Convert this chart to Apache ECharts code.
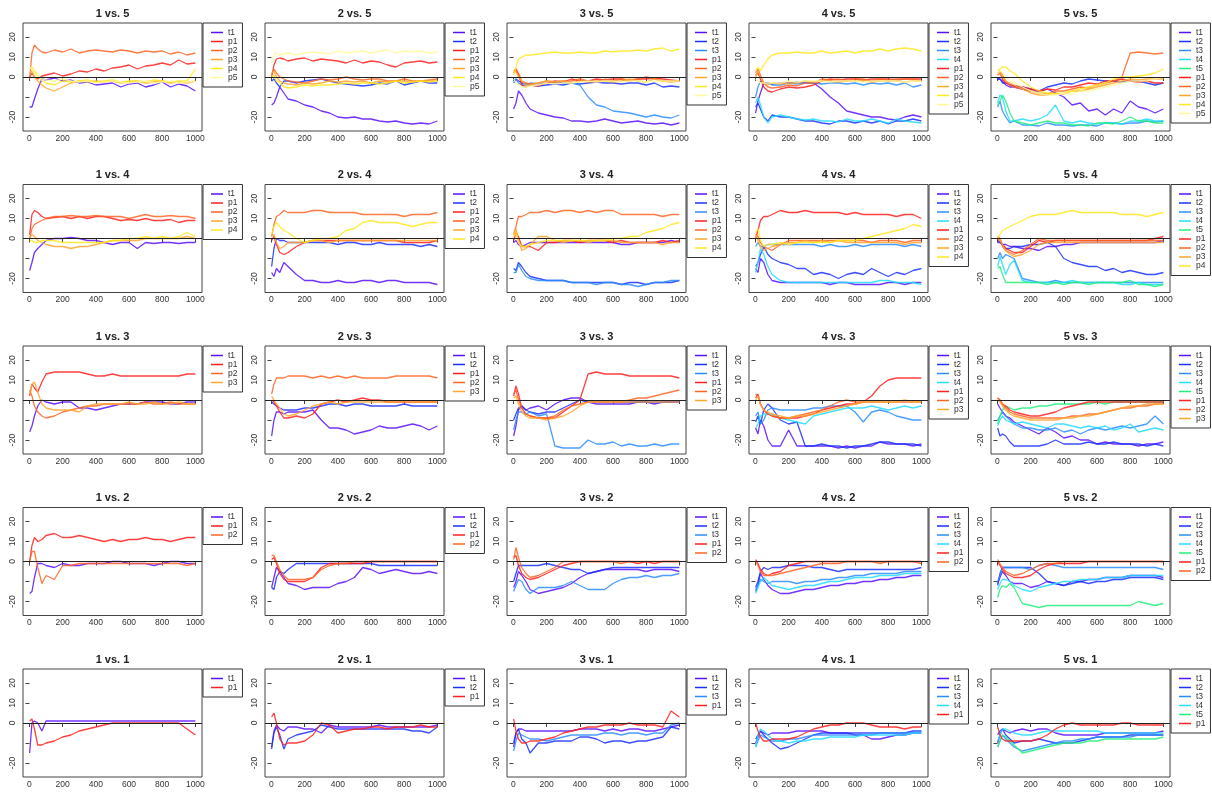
<!DOCTYPE html>
<html>
<head>
<meta charset="utf-8">
<title>t vs p</title>
<script src="https://cdn.jsdelivr.net/npm/echarts@6/dist/echarts.min.js"></script>
<style>
  html, body { margin: 0; padding: 0; background: #fff; }
  #chart { width: 1212px; height: 798px; }
</style>
</head>
<body>
<div id="chart"></div>
<script>
const steps = [1, 15, 30, 50, 75, 100, 150, 200, 250, 300, 350, 400, 450, 500, 550, 600, 650, 700, 750, 800, 850, 900, 950, 1000];
const xTicks = [0, 200, 400, 600, 800, 1000];
const yTicks = [-20, -10, 0, 10, 20];
const yLabels = [-20, 0, 10, 20];

const tColors = ["#5a10ff", "#1a30ff", "#2a8cff", "#22dcff", "#22f07a"];
const pColors = ["#ff1f1f", "#ff6424", "#ffa62e", "#ffe81c", "#fff99a"];

// "i vs. j": t1..ti then p1..pj
const v1_5 = [
  [-15, -15, -11, -6, -1, -1.5, -0.5, -2, -1.5, -3, -2.5, -4, -3.5, -3, -5, -3.5, -3, -5, -4, -2.5, -5, -3.5, -4.5, -7],
  [0, 2, 0, -1, 0.5, 1, 2, 0.5, 1.5, 3, 2.5, 4, 3, 4.5, 5, 6, 4, 5.5, 6, 7, 6, 8.5, 6.5, 7],
  [-1, 12, 16, 14, 12.5, 12, 13.5, 12.5, 14, 12, 13, 13.5, 13, 12.5, 13.5, 13, 12, 13, 12.5, 13, 11.5, 12.5, 11, 12],
  [2, 3, 0, -2, -4, -5.5, -7, -5, -3, -2, -2.5, -2, -2.5, -2, -3, -2.5, -2, -3, -2.5, -2, -3, -2.5, -3, -2],
  [4, 5, 3, 1, -2, -3, -4, -2, -2.5, -2, -1.5, -2.5, -2, -1.5, -2.5, -2, -2, -2.5, -1.5, -2, -2.5, -2, -2, 4],
  [5, 4, 2, 0, -1, -1.5, -2, -1, -2, -2.5, -2, -3, -2.5, -2, -2.5, -3, -2.5, -2, -3, -2.5, -2, -3, -2.5, -2]
];
const v2_5 = [
  [-14, -13, -10, -5, -8, -11, -12, -14, -15, -17, -18, -20, -20.5, -20, -21, -21, -22, -22.5, -22, -23, -23.5, -23, -23.5, -22],
  [-2, -1, -3, -5, -2, -2, -3, -2, -1.5, -1, -2, -3, -3.5, -4, -4.5, -4, -3, -3.5, -2, -4, -3, -2, -3, -3],
  [0, 6, 9, 9.5, 9, 8, 9, 9.5, 8, 9, 8.5, 8, 7, 8.5, 7, 8, 7.5, 6, 5, 7, 7.5, 8, 7, 7.5],
  [1, 4, 2, 0, -1, -2, -2.5, -3, -2, -1, -1.5, -1, 0, -1, -1.5, -1, -1, -2, -2, -1, -2, -2, -1.5, -1],
  [2, 3, 0, -2, -3, -3.5, -4, -3, -3.5, -3, -2, -2.5, -2, -2.5, -2, -3, -2, -2.5, -2, -2, -2.5, -2, -2, -2],
  [0, 1, -2, -3, -5, -5.5, -5, -4, -4.5, -4, -4, -3.5, -3, -3.5, -3, -3, -3.5, -3, -2, -3, -2.5, -2, -2.5, -2],
  [7, 11, 12, 11, 11.5, 12, 11, 12, 12.5, 12, 11.5, 13, 12, 12.5, 13, 12, 13, 13.5, 12, 13, 12.5, 13, 12, 12.5]
];
const v3_5 = [
  [-16, -13, -7, -9, -13, -16, -18, -19, -20, -20.5, -22, -22, -22.5, -22, -21, -22, -23, -22.5, -22, -23, -23.5, -23, -24, -23],
  [-3, -1, -2, -3, -3.5, -4, -4.5, -4, -3.5, -4, -3, -3.5, -3, -2.5, -3, -3, -3.5, -3, -3, -4, -3, -5, -4.5, -5],
  [-2, -1, -3, -4, -4, -3, -3.5, -3, -2.5, -3, -3, -4, -10, -14, -15, -17, -17.5, -18, -19, -20, -19, -20, -20.5, -19],
  [2, 4, 1, -4, -5, -4, -4.5, -3, -2, -2.5, -1, -2, -2, -1, -1.5, -1, -1, -1.5, -1, -1, -0.5, -1, -1.5, -2],
  [3, 4, 2, -2, -3, -3.5, -3, -2, -2.5, -2, -2, -1, -2, -2.5, -1, -2, -1, -2, -1, 0, -1, -2, -2, -2],
  [2, 3, 0, -2, -4, -4, -3, -2, -2.5, -2, -3, -2, -2.5, -2, -2, -2.5, -2, -1, -2, -2.5, -1, -2, -2.5, -2],
  [1, 5, 9, 10, 11, 11, 11.5, 12, 12.5, 12, 12, 12.5, 12, 12, 13, 12.5, 13, 13, 13.5, 13, 14, 14.5, 13, 14],
  [-1, -3, -4, -5, -5, -4.5, -4, -3, -3.5, -3, -3, -2.5, -2, -2.5, -2, -2, -2.5, -2, -2, -2.5, -2, -2, -2, -2]
];
const v4_5 = [
  [-18, -12, -8, -3, -3, -3.5, -3, -3, -2.5, -3, -3, -6, -10, -13, -17, -18, -19, -20, -20, -21, -21.5, -20, -19, -20],
  [-15, -13, -16, -20, -22, -19, -20, -20, -21, -22, -22, -23, -23.5, -22, -22, -23, -22, -23, -22, -23.5, -22, -22, -21, -22],
  [-10, -5, -2, -3, -3, -4, -4, -3, -3.5, -3, -3, -3.5, -3, -3, -3.5, -3, -4, -3, -3.5, -3, -4, -3, -5, -4],
  [-13, -10, -14, -20, -23, -20, -19, -20, -21, -21.5, -21, -22, -22, -22.5, -21, -22, -22, -21, -22, -23, -21, -22, -22.5, -23],
  [1, 2, -1, -5, -7, -7.5, -6, -5, -5.5, -5, -4, -2, -1, -1.5, -1, -1, -1.5, -1, -1, -1, -1.5, -1, -1, -1],
  [2, 4, 1, -3, -5, -5.5, -5, -4, -4.5, -3, -3, -1, -1.5, -1, -2, -1, -1, -2, -1, -1.5, -1, -1, -1, -2],
  [0, 3, 0, -3, -4, -3, -3.5, -3, -3, -2, -2.5, -2, -2, -2.5, -2, -2, -2, -2.5, -2, -2, -2, -2.5, -2, -2],
  [3, 5, 3, 6, 9, 11, 12, 12, 12.5, 12, 12, 13, 12, 12.5, 13, 12, 13, 13, 14, 13, 14, 14.5, 14, 13],
  [-1, -2, -3, -3, -3, -3, -3, -2, -2.5, -2, -2, -2, -2.5, -2, -2, -2, -2.5, -2, -2, -2, -2, -2.5, -2, -2]
];
const v5_5 = [
  [-1, -1, -2, -4, -5, -5, -6, -7, -7.5, -6, -8, -10, -14, -13, -17, -16, -19, -16, -18, -12, -15, -16, -18, -16],
  [-1, -1, -3, -3, -4, -4.5, -5, -6, -7, -5, -4, -3, -3.5, -2, -1, -1.5, -2, -2, -2.5, -2, -2, -3, -4, -3],
  [-15, -12, -17, -20, -23, -22, -24, -24, -24.5, -23, -24, -24, -24.5, -24, -24, -24.5, -23, -23, -23.5, -23, -23, -22, -22.5, -22],
  [-13, -9, -10, -17, -22, -22, -21, -22, -21, -19, -14, -22, -23, -22, -23, -23.5, -23, -23, -23.5, -22, -22, -21, -22, -22],
  [-14, -12, -9, -12, -18, -22, -23, -24, -23, -22, -23, -23, -24, -24, -24.5, -23, -23, -23.5, -22, -20, -22, -22, -23, -23],
  [1, 2, -1, -3, -4, -4.5, -5, -6, -7, -6, -6.5, -5, -5, -4, -3, -3.5, -2, -2, -1, -2, -2.5, -2, -3, -3],
  [2, 3, 1, -2, -4, -5, -6, -7, -8, -8.5, -7, -7, -6, -5, -5.5, -4, -3, -2, 0, 12, 12.5, 12, 11.5, 12],
  [1, 2, 0, -2, -3, -4, -6, -8, -9, -9, -8, -8.5, -7, -7, -6, -5, -4, -3, -2, -1, -1.5, -1, -1, -1],
  [3, 4, 5, 5, 3, 2, -2, -5, -7, -8, -8.5, -8, -7, -6, -5, -4, -3, -1, 0, 0, 0.5, 1, 2, 4],
  [2, 3, 2, 0, -2, -3, -5, -7, -8, -9, -9, -8, -8.5, -7, -7, -6, -5, -4, -3, -2, -2, -2, -1, 0]
];

const v1_4 = [
  [-16, -12, -7, -5, -3, -1, 0, 0, 0.5, 0, -1, -1, -2, -3, -2, -2, -5, -2, -2.5, -2, -2, -2.5, -2, -2],
  [2, 12, 14, 13, 11, 10, 10.5, 11, 10, 11, 10, 11, 11, 10, 9, 9.5, 9, 10, 9, 9, 9.5, 8, 9, 9],
  [0, 5, 7, 8, 9, 10, 11, 11, 11.5, 11, 11, 11.5, 11, 11, 11, 10, 11, 12, 11, 11, 11.5, 11, 11, 10],
  [0, 2, 1, -1, -2, -3, -4, -4, -5, -4, -4, -3, -2, -1, -1, -1, -1, 0, 0, 0, 0, 0, 1, 0],
  [-1, -1, -2, -2, -1, -1, -1, -2, -2, -2, -2, -2, -2, -1, -1, 0, 0, 1, 0, 1, 0, 1, 3, 1]
];
const v2_4 = [
  [-17, -19, -15, -17, -12, -14, -18, -21, -21, -22, -22, -21, -22, -22, -21, -21, -22, -21, -21, -22, -22, -22, -22, -23],
  [-14, -5, 0, -1, -1, -2, -2, -2, -2, -2, -2, -3, -2, -2, -3, -3, -2, -3, -3, -3, -3, -4, -3, -4],
  [-1, 1, -3, -7, -8, -7, -4, -2, -1, -1, -1, -1, -1, -1, -1, -1, -1, -1, -1, -2, -2, -2, -2, -1],
  [1, 7, 11, 12, 14, 13, 13, 13, 14, 14, 13, 13, 13, 13, 12, 12, 12, 12, 12, 11, 12, 12, 12, 13],
  [1, 2, -2, -5, -4, -2, -2, -2, -1, -1, -2, -1, -1, -1, -1, -1, -1, -1, -1, -1, -1, -1, -1, -1],
  [2, 6, 8, 6, 4, 3, 0, -2, -1, 0, 0, 1, 4, 5, 8, 9, 8, 8, 8, 7, 6, 7, 8, 8]
];
const v3_4 = [
  [-2, -1, -3, -4, -3, -2, -2, -2, -2, -2, -2, -2, -2, -2, -2, -2, -3, -3, -2, -2, -2, -2, -1, -2],
  [-15, -16, -12, -14, -17, -19, -20, -21, -21, -21, -22, -22, -22, -22, -22, -22, -23, -22, -22, -23, -22, -22, -22, -21],
  [-17, -17, -13, -16, -19, -20, -21, -21, -21, -21, -22, -22, -22, -23, -22, -22, -23, -23, -24, -23, -22, -22, -21, -21],
  [-1, 3, 1, -4, -4, -4, -6, -2, -2, -1, -1, -2, -1, -1, -1, -2, -1, -2, -2, -2, -2, -1, -2, -1],
  [2, 6, 11, 11, 12, 13, 13, 14, 13, 14, 14, 13, 14, 13, 14, 14, 12, 12, 12, 12, 12, 11, 12, 12],
  [2, 5, -1, -6, -5, -3, 1, 1, -1, -2, -1, -1, -2, -1, -1, -1, -2, -2, -2, -2, -2, -3, -2, -2],
  [1, 3, -2, -4, -4, -3, -2, -1, -1, -1, -1, -1, -1, -1, -1, 0, 0, 1, 1, 3, 4, 5, 7, 8]
];
const v4_4 = [
  [-15, -17, -10, -12, -18, -21, -22, -22, -22, -22, -22, -22, -23, -22, -22, -23, -23, -23, -23, -22, -22, -23, -22, -22],
  [-14, -12, -8, -4, -8, -10, -12, -13, -15, -15, -18, -17, -18, -20, -18, -17, -18, -15, -17, -19, -17, -18, -16, -15],
  [-4, -2, -4, -4, -3, -3, -3, -3, -3, -3, -3, -4, -3, -4, -4, -3, -4, -3, -3, -3, -3, -4, -3, -4],
  [-17, -12, -5, -8, -14, -18, -21, -22, -22, -22, -22, -22, -22, -22, -22, -22, -22, -22, -21, -21, -22, -22, -22, -23],
  [0, 4, 9, 11, 11, 12, 14, 13, 13, 14, 13, 13, 13, 13, 12, 13, 12, 12, 12, 12, 11, 12, 12, 10],
  [2, 1, -2, -4, -5, -6, -3, -1, -1, -1, -1, -1, -1, -1, -1, -1, -1, -2, -1, -1, -1, -2, -1, -1],
  [2, -1, -4, -6, -5, -4, -3, -2, -2, -1, -2, -1, -2, -1, -2, -2, -2, -2, -2, -2, -2, -3, -2, -2],
  [3, 5, -1, -4, -3, -3, -2, -3, -2, -2, -2, -2, -2, -1, -1, -1, 0, 1, 2, 3, 4, 5, 7, 6]
];
const v5_4 = [
  [-1, -2, -3, -3, -4, -4, -5, -5, -6, -4, -4, -3, -3, -2, -2, -2, -2, -2, -2, -2, -2, -2, -2, -1],
  [-2, -2, -3, -5, -5, -4, -4, -3, -3, -2, -4, -10, -12, -13, -14, -14, -16, -15, -17, -16, -17, -18, -18, -17],
  [-10, -7, -10, -8, -9, -10, -20, -21, -22, -22, -21, -22, -22, -22, -22, -22, -22, -22, -22, -22, -22, -22, -22, -22],
  [-14, -9, -13, -18, -13, -11, -21, -22, -22, -22, -22, -22, -21, -22, -22, -22, -22, -22, -23, -23, -22, -23, -23, -23],
  [-15, -14, -18, -22, -22, -22, -22, -22, -22, -23, -22, -23, -22, -22, -23, -22, -22, -22, -22, -21, -23, -23, -24, -23],
  [1, 0, -3, -5, -6, -7, -7, -4, -1, -2, -1, -1, -1, -1, -1, -1, -1, -1, -1, -1, -1, -1, 0, 1],
  [0, -1, -4, -6, -7, -8, -6, -3, 0, -1, -1, -1, -1, -1, -1, -1, -1, -1, -1, -1, -1, -1, -1, -1],
  [1, 0, -3, -6, -8, -9, -8, -6, -3, -2, -2, -2, -2, -2, -2, -2, -2, -2, -2, -2, -2, -2, -2, -2],
  [0, 2, 4, 5, 6, 7, 9, 11, 12, 12, 12, 13, 14, 13, 13, 13, 13, 13, 12, 12, 12, 11, 12, 13]
];

const v1_3 = [
  [-16, -13, -8, -3, 0, -1, -2, -1, -1, -4, -4, -5, -4, -3, -2, -2, -2, -1, -1, -1, -2, -2, -1, -1],
  [2, 8, 6, 4, 9, 13, 14, 14, 14, 14, 13, 12, 12, 13, 12, 12, 12, 12, 12, 12, 12, 12, 13, 13],
  [5, 2, -3, -6, -8, -9, -8, -6, -5, -4, -3, -3, -2, -2, -2, -2, -2, -1, -2, -2, -1, -2, -2, -2],
  [3, 8, 9, 4, -2, -4, -5, -5, -5, -6, -3, -2, -2, -2, -2, -1, -2, -2, -1, -2, -2, -1, -2, -2]
];
const v2_3 = [
  [-18, -10, -6, -6, -7, -6, -6, -6, -5, -10, -14, -14, -15, -17, -16, -15, -13, -14, -14, -13, -12, -13, -15, -13],
  [-1, -2, -3, -4, -5, -5, -5, -4, -4, -3, -2, -2, -3, -2, -2, -3, -3, -3, -3, -2, -3, -3, -3, -3],
  [0, -1, -3, -6, -9, -9, -8, -9, -7, -2, -1, 0, -1, 0, 1, 0, 0, -1, -1, -1, -1, -1, -1, -1],
  [3, 8, 11, 11, 11, 12, 12, 12, 11, 12, 11, 12, 11, 12, 11, 11, 11, 11, 12, 12, 12, 12, 12, 11],
  [2, 0, -2, -4, -7, -8, -7, -5, -3, -2, -1, -2, -1, -1, -1, -1, -1, -1, -1, -1, -1, -1, -1, -1]
];
const v3_3 = [
  [-18, -13, -5, -3, -5, -4, -3, -5, -2, 0, 1, 1, -1, -2, -2, -2, -2, -2, -1, -1, -2, -1, -1, -1],
  [-10, -7, -4, -3, -5, -6, -7, -6, -6, -4, -2, 0, -1, -1, -1, -1, -1, -1, -1, -1, -1, -1, -1, -1],
  [-15, -10, -6, -6, -7, -6, -8, -7, -23, -24, -24, -24, -20, -22, -22, -21, -23, -22, -23, -23, -22, -23, -22, -22],
  [2, 7, 3, -4, -7, -8, -9, -9, -9, -6, -3, 0, 13, 14, 13, 13, 13, 12, 12, 12, 12, 12, 12, 11],
  [3, 5, 0, -4, -7, -8, -9, -9, -8, -5, -3, -2, -1, -1, -1, -1, -1, 0, 1, 1, 2, 3, 4, 5],
  [1, 2, -2, -6, -8, -9, -9, -10, -9, -8, -6, -3, -1, -1, -1, -1, -1, -1, -1, -1, -1, -1, -1, -1]
];
const v4_3 = [
  [-14, -17, -10, -13, -20, -23, -23, -15, -23, -23, -23, -23, -23, -24, -23, -24, -23, -23, -21, -22, -22, -22, -23, -22],
  [-11, -8, -12, -5, -2, -4, -10, -12, -11, -23, -23, -22, -23, -23, -24, -23, -23, -22, -21, -21, -22, -22, -22, -23],
  [-8, -6, -12, -10, -5, -4, -5, -5, -5, -5, -4, -4, -3, -3, -3, -6, -11, -6, -5, -6, -8, -9, -10, -10],
  [-14, -12, -8, -7, -7, -7, -9, -10, -11, -12, -8, -7, -6, -5, -4, -4, -4, -3, -4, -5, -4, -3, -4, -3],
  [1, 3, -2, -5, -7, -8, -9, -9, -9, -8, -7, -5, -4, -3, -2, -2, -1, 2, 7, 10, 11, 11, 11, 11],
  [3, 2, -2, -5, -7, -8, -9, -9, -8, -7, -6, -5, -3, -1, 0, -1, -1, -1, -1, -1, -1, -1, -1, -1],
  [0, 2, -2, -5, -6, -7, -8, -9, -8, -8, -7, -6, -5, -4, -3, -2, -1, -1, -1, -1, -1, 0, -1, -1]
];
const v5_3 = [
  [-2, -4, -6, -8, -9, -11, -13, -15, -17, -14, -16, -19, -18, -20, -20, -22, -21, -22, -22, -22, -23, -22, -22, -21],
  [-14, -18, -17, -18, -21, -23, -23, -23, -23, -22, -20, -22, -22, -22, -21, -22, -22, -21, -22, -22, -22, -23, -22, -23],
  [-10, -8, -6, -8, -10, -12, -14, -14, -15, -15, -14, -16, -15, -17, -15, -14, -15, -14, -13, -14, -13, -12, -8, -12],
  [-13, -10, -8, -10, -11, -12, -11, -12, -13, -14, -12, -12, -13, -14, -13, -14, -13, -15, -14, -12, -16, -15, -14, -15],
  [-12, -8, -5, -3, -4, -5, -4, -4, -3, -3, -2, -2, -2, -2, -2, -1, -2, -1, -1, -1, -1, -1, -1, -1],
  [1, 0, -2, -3, -5, -6, -7, -8, -8, -7, -6, -4, -3, -2, -1, -1, -1, -1, -1, -1, -1, -1, -1, -1],
  [1, 0, -2, -4, -6, -7, -8, -9, -9, -9, -9, -9, -8, -8, -7, -7, -6, -5, -4, -4, -3, -3, -2, -2],
  [0, -1, -3, -5, -7, -8, -9, -10, -10, -10, -10, -9, -9, -8, -8, -7, -6, -5, -4, -3, -3, -2, -2, -2]
];

const v1_2 = [
  [-16, -15, -8, -1, -1, -2, -3, -1, -2, -2, -1, -1, -1, 0, 0, -1, -1, -1, -2, -1, 0, 0, -1, -1],
  [0, 8, 12, 10, 11, 13, 14, 12, 12, 13, 12, 11, 10, 11, 10, 11, 11, 12, 11, 11, 10, 11, 12, 12],
  [0, 5, 5, -3, -11, -7, -9, -2, -2, -1, -1, -1, -1, -1, -1, -1, -1, -1, -1, -1, -1, -1, -2, -1]
];
const v2_2 = [
  [-13, -8, -3, -5, -8, -11, -12, -14, -13, -13, -13, -11, -10, -8, -3, -4, -6, -5, -4, -5, -6, -6, -5, -6],
  [-13, -14, -8, -5, -6, -4, -1, -1, -1, -1, -1, -1, -1, -1, -1, -1, -2, -2, -2, -2, -2, -2, -2, -2],
  [1, 2, -1, -6, -9, -10, -10, -10, -8, -3, -1, -1, -1, -1, -1, 0, 0, 0, 0, 0, 0, 0, 0, 0],
  [3, 3, 0, -4, -7, -9, -9, -9, -8, -4, -2, -1, -1, 0, 0, 0, 0, 0, 0, 0, 0, 0, 0, 0]
];
const v3_2 = [
  [-13, -10, -5, -7, -10, -14, -16, -15, -14, -13, -11, -8, -6, -5, -4, -4, -4, -4, -4, -5, -4, -4, -4, -5],
  [-10, -6, -2, -2, -2, -2, -2, -1, -2, -3, -4, -4, -6, -5, -4, -3, -3, -3, -3, -3, -3, -3, -3, -3],
  [-15, -12, -9, -10, -14, -16, -13, -13, -13, -12, -10, -12, -14, -14, -14, -11, -9, -8, -8, -7, -8, -7, -7, -6],
  [2, 3, -2, -6, -8, -9, -8, -6, -4, -2, -1, 0, 0, 0, 0, 0, 0, 0, -1, 0, -1, 0, 0, 0],
  [1, 7, 2, -3, -6, -8, -7, -5, -3, 0, 0, 0, 0, 0, 0, 0, -1, 0, 0, 0, 0, 0, 0, 0]
];
const v4_2 = [
  [-15, -12, -6, -9, -12, -14, -16, -16, -15, -14, -14, -13, -12, -12, -11, -11, -10, -10, -9, -9, -8, -8, -7, -7],
  [-13, -10, -5, -3, -4, -3, -3, -2, -2, -2, -3, -3, -4, -5, -4, -4, -4, -4, -4, -4, -4, -4, -4, -3],
  [-14, -12, -9, -10, -11, -10, -10, -10, -11, -10, -10, -9, -9, -8, -8, -7, -7, -6, -6, -6, -6, -5, -5, -5],
  [-16, -13, -10, -8, -10, -12, -13, -14, -13, -12, -12, -11, -10, -10, -9, -8, -8, -8, -7, -7, -7, -6, -6, -6],
  [1, -1, -4, -6, -7, -6, -5, -2, -1, 0, 0, 0, 0, 0, 0, 0, 0, 0, 0, 0, 0, 0, 0, 0],
  [0, -2, -5, -7, -7, -7, -6, -5, -4, -3, -2, -1, -1, -1, 0, 0, 0, 0, -1, 0, 0, 0, 0, -1]
];
const v5_2 = [
  [-11, -8, -5, -7, -10, -11, -11, -13, -12, -10, -11, -12, -10, -10, -9, -9, -8, -8, -8, -7, -7, -7, -7, -8],
  [-12, -6, -3, -3, -3, -3, -3, -3, -6, -10, -11, -12, -11, -10, -11, -10, -10, -9, -9, -8, -8, -8, -8, -9],
  [-10, -7, -3, -3, -3, -3, -3, -4, -2, -1, -2, -3, -3, -3, -3, -3, -3, -3, -3, -3, -3, -3, -3, -4],
  [-14, -11, -9, -9, -10, -12, -14, -15, -13, -12, -11, -10, -10, -9, -9, -9, -8, -8, -8, -7, -7, -7, -7, -7],
  [-18, -14, -12, -13, -11, -13, -21, -22, -23, -22, -22, -22, -22, -22, -22, -22, -22, -22, -22, -22, -20, -21, -22, -21],
  [0, -2, -4, -6, -7, -8, -8, -7, -4, -2, -1, -1, -1, -1, 0, 0, 0, 0, 0, 0, 0, 0, 0, 0],
  [1, -1, -3, -5, -6, -7, -6, -4, -2, -1, -1, 0, 0, 0, 0, 0, 0, 0, 0, 0, 0, 0, 0, 0]
];

const v1_1 = [
  [-15, 0, 1, 0, -4, 1, 1, 1, 1, 1, 1, 1, 1, 1, 1, 1, 1, 1, 1, 1, 1, 1, 1, 1],
  [1, 2, -3, -11, -11, -10, -9, -7, -6, -4, -3, -2, -1, 0, 0, 0, 0, 0, 0, 0, 0, 0, -3, -6]
];
const v2_1 = [
  [-12, -4, -1, -3, -4, -2, -2, -3, -3, -5, -1, -2, -2, -2, -2, -2, -1, -2, -2, -2, -2, -2, -2, -1],
  [-13, -5, -2, -6, -13, -8, -6, -5, -4, -1, -2, -3, -3, -3, -3, -3, -3, -3, -3, -3, -4, -4, -5, -2],
  [3, 5, 0, -8, -11, -10, -10, -9, -6, 0, -1, -5, -4, -3, -3, -2, -2, -3, -2, -2, -2, -1, -2, -2]
];
const v3_1 = [
  [-12, -5, -3, -3, -4, -4, -4, -4, -4, -4, -4, -3, -3, -3, -4, -3, -4, -3, -3, -4, -4, -3, -2, -1],
  [-10, -5, -3, -8, -10, -15, -10, -10, -9, -9, -9, -7, -7, -8, -10, -9, -9, -10, -9, -9, -8, -7, -2, -3],
  [-14, -9, -5, -6, -7, -8, -8, -9, -8, -7, -6, -6, -6, -6, -5, -5, -6, -5, -5, -6, -5, -5, -1, 0],
  [2, -4, -8, -10, -10, -9, -9, -8, -7, -5, -4, -3, -2, -2, -1, -1, -1, 0, -1, -1, -1, -2, 6, 3]
];
const v4_1 = [
  [-10, -7, -4, -5, -6, -5, -5, -5, -4, -4, -4, -4, -5, -5, -5, -6, -6, -8, -8, -7, -6, -6, -5, -5],
  [-8, -6, -4, -6, -8, -10, -13, -12, -10, -8, -6, -5, -5, -5, -5, -5, -5, -5, -5, -5, -5, -5, -4, -4],
  [-12, -9, -6, -7, -8, -9, -9, -8, -8, -7, -6, -6, -6, -6, -6, -6, -6, -6, -5, -5, -5, -5, -5, -4],
  [-12, -6, -3, -4, -6, -8, -9, -10, -9, -9, -8, -8, -7, -7, -7, -7, -6, -6, -6, -6, -6, -6, -5, -5],
  [0, -4, -7, -9, -9, -8, -8, -8, -7, -5, -3, -2, -1, -1, 0, 0, 0, -1, -2, -2, -2, -3, -2, -2]
];
const v5_1 = [
  [-10, -6, -3, -4, -5, -4, -3, -4, -3, -3, -5, -6, -6, -6, -6, -6, -5, -5, -5, -5, -5, -5, -5, -4],
  [-6, -4, -3, -6, -8, -10, -9, -9, -8, -9, -10, -10, -10, -9, -8, -7, -7, -7, -7, -6, -6, -6, -6, -6],
  [-12, -9, -6, -8, -10, -12, -14, -13, -12, -11, -10, -9, -9, -8, -8, -7, -7, -7, -7, -7, -6, -6, -6, -6],
  [-9, -6, -3, -3, -4, -5, -6, -6, -5, -4, -4, -4, -4, -4, -4, -4, -5, -5, -5, -5, -5, -5, -5, -5],
  [-12, -9, -6, -7, -9, -11, -15, -14, -13, -12, -11, -10, -10, -10, -9, -9, -8, -8, -8, -8, -8, -8, -8, -7],
  [-2, -6, -8, -9, -9, -9, -9, -9, -8, -6, -3, -1, 0, -1, -1, -1, -1, -1, 0, 0, -1, -1, -1, -1]
];

const panels = [
  [1, 5, v1_5], [2, 5, v2_5], [3, 5, v3_5], [4, 5, v4_5], [5, 5, v5_5],
  [1, 4, v1_4], [2, 4, v2_4], [3, 4, v3_4], [4, 4, v4_4], [5, 4, v5_4],
  [1, 3, v1_3], [2, 3, v2_3], [3, 3, v3_3], [4, 3, v4_3], [5, 3, v5_3],
  [1, 2, v1_2], [2, 2, v2_2], [3, 2, v3_2], [4, 2, v4_2], [5, 2, v5_2],
  [1, 1, v1_1], [2, 1, v2_1], [3, 1, v3_1], [4, 1, v4_1], [5, 1, v5_1]
];

const font = "'Liberation Sans', Arial, Helvetica, sans-serif";
const plotW = 179, plotH = 108;

const grids = [], xAxes = [], yAxes = [], titles = [], legends = [], series = [];

panels.forEach(([i, j, lines], k) => {
  const left = 23 + 242 * (i - 1);
  const top = 23 + 161.5 * (5 - j);

  grids.push({ left, top, width: plotW, height: plotH, show: true, borderColor: "#444", borderWidth: 1 });

  xAxes.push({
    type: "value", gridIndex: k, min: -39, max: 1040,
    axisLine: { show: false }, splitLine: { show: false },
    axisTick: { show: true, length: 4, customValues: xTicks, lineStyle: { color: "#444" } },
    axisLabel: {
      customValues: xTicks, margin: 3, fontSize: 8.5, color: "#333", fontFamily: font,
      formatter: v => String(v)
    }
  });
  yAxes.push({
    type: "value", gridIndex: k, min: -27, max: 27,
    axisLine: { show: false }, splitLine: { show: false },
    axisTick: { show: true, length: 4, customValues: yTicks, lineStyle: { color: "#444" } },
    axisLabel: { customValues: yLabels, rotate: 90, margin: 6, fontSize: 8.5, color: "#333", fontFamily: font }
  });

  titles.push({
    text: i + " vs. " + j, left: left + plotW / 2, top: top - 15, textAlign: "center", padding: 0,
    textStyle: { fontSize: 11, fontWeight: "bold", color: "#222", fontFamily: font }
  });

  const names = [];
  lines.forEach((vals, s) => {
    const isT = s < i;
    const label = isT ? "t" + (s + 1) : "p" + (s - i + 1);
    const color = isT ? tColors[s] : pColors[s - i];
    const name = i + "v" + j + " " + label;
    names.push(name);
    series.push({
      type: "line", name, xAxisIndex: k, yAxisIndex: k,
      data: steps.map((x, n) => [x, vals[n]]),
      symbol: "none", showSymbol: false,
      lineStyle: { width: 1.3, color, opacity: 0.85 },
      itemStyle: { color }
    });
  });
  // horizontal reference line at 0, drawn with the last curve of the panel
  series[series.length - 1].markLine = {
    silent: true, symbol: "none", label: { show: false },
    lineStyle: { color: "#222", width: 1, type: "solid" },
    data: [{ yAxis: 0 }]
  };

  legends.push({
    left: left + plotW + 1, top, orient: "vertical",
    data: names, formatter: n => n.split(" ")[1],
    icon: "rect", itemWidth: 12, itemHeight: 1.5, itemGap: 0,
    padding: [5, 5, 5, 8], borderColor: "#333", borderWidth: 1,
    selectedMode: false,
    textStyle: { fontSize: 8.5, lineHeight: 8.5, color: "#333", fontFamily: font }
  });
});

const chart = echarts.init(document.getElementById("chart"));
chart.setOption({
  animation: false,
  backgroundColor: "#fff",
  title: titles,
  legend: legends,
  grid: grids,
  xAxis: xAxes,
  yAxis: yAxes,
  series
});
window.addEventListener("resize", function() {
  chart.resize();
});
</script>
</body>
</html>
